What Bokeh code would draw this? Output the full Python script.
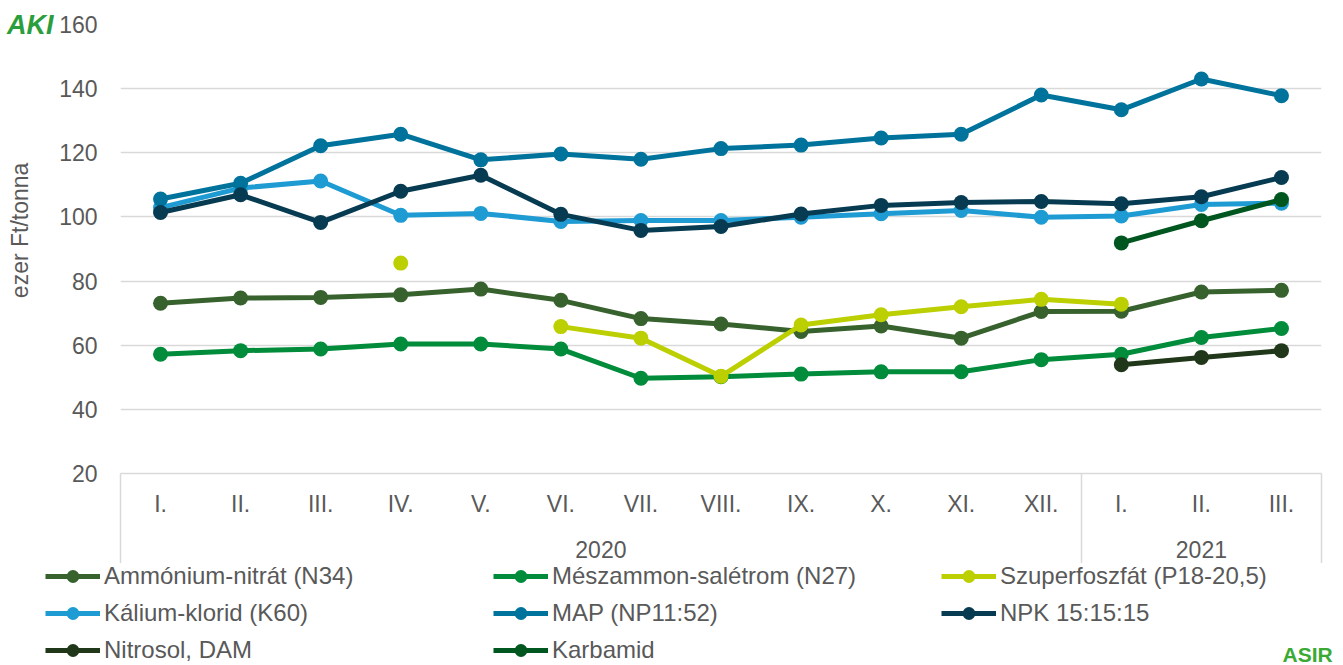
import numpy as np
from bokeh.plotting import figure
from bokeh.layouts import column
from bokeh.models import Range1d, FixedTicker, LinearAxis, Legend, LegendItem, Label
from bokeh.embed import file_html
from bokeh.resources import INLINE

nan = float("nan")

# ---- data ----
months = ["I.", "II.", "III.", "IV.", "V.", "VI.", "VII.", "VIII.", "IX.", "X.", "XI.", "XII.",
          "I.", "II.", "III."]
years = ["2020", "2021"]
year_counts = [12, 3]

ammonium = [73.1, 74.7, 74.9, 75.7, 77.5, 74.0, 68.3, 66.6, 64.3, 66.0, 62.2, 70.5, 70.6, 76.6, 77.1]
meszammon = [57.2, 58.3, 58.8, 60.4, 60.4, 58.8, 49.7, 50.2, 51.0, 51.7, 51.7, 55.5, 57.2, 62.4, 65.2]
szuperfoszfat = [nan, nan, nan, 85.6, nan, 65.8, 62.2, 50.3, 66.3, 69.5, 72.0, 74.3, 72.8, nan, nan]
kalium = [102.9, 109.0, 111.2, 100.5, 101.1, 98.6, 98.9, 98.9, 99.9, 101.0, 102.0, 99.9, 100.3, 103.9, 104.3]
map_np = [105.6, 110.5, 122.2, 125.8, 117.8, 119.6, 118.0, 121.3, 122.4, 124.6, 125.8, 138.0, 133.4, 143.0, 137.8]
npk = [101.4, 106.9, 98.3, 108.0, 113.0, 100.8, 95.8, 97.0, 100.9, 103.6, 104.5, 104.8, 104.1, 106.3, 112.3]
nitrosol = [nan, nan, nan, nan, nan, nan, nan, nan, nan, nan, nan, nan, 53.9, 56.2, 58.3]
karbamid = [nan, nan, nan, nan, nan, nan, nan, nan, nan, nan, nan, nan, 91.9, 98.8, 105.4]

series_names = ["Ammónium-nitrát (N34)", "Mészammon-salétrom (N27)", "Szuperfoszfát (P18-20,5)",
                "Kálium-klorid (K60)", "MAP (NP11:52)", "NPK 15:15:15",
                "Nitrosol, DAM", "Karbamid"]
series_values = [ammonium, meszammon, szuperfoszfat, kalium, map_np, npk, nitrosol, karbamid]
series_colors = ["#37622D", "#008C3A", "#BCCF00", "#1E9BD2", "#00739C", "#073B52", "#213719", "#00561F"]

y_ticks = [20, 40, 60, 80, 100, 120, 140, 160]
y_title = "ezer Ft/tonna"
y_title_at = 95.8
logo_top = "AKI"
logo_bottom = "ASIR"

TEXT = "#595959"
GRID = "#D9D9D9"
FONT = "Liberation Sans"
FS = "23px"
FS_LEG = "24px"
LW = 5
MS = 15
W = 1343
H1 = 563
H2 = 665 - H1

n = len(months)
x_pos = [i + 0.5 for i in range(n)]
bounds = [float(b) for b in np.cumsum([0] + year_counts)]
group_centers = [(bounds[i] + bounds[i + 1]) / 2 for i in range(len(years))]

# ================= main chart =================
p = figure(width=W, height=H1, x_range=Range1d(0, n), y_range=Range1d(20, 160),
           output_backend="svg", toolbar_location=None, x_axis_type=None,
           min_border_left=120, min_border_right=22, min_border_top=24, min_border_bottom=90)
p.outline_line_color = None
p.background_fill_color = "white"
p.border_fill_color = "white"
p.extra_y_ranges = {"logo": Range1d(0, 1)}

ya = p.yaxis[0]
ya.ticker = FixedTicker(ticks=y_ticks)
ya.axis_line_color = None
ya.major_tick_out = 0
ya.major_tick_in = 0
ya.minor_tick_line_color = None
ya.major_label_standoff = 23
ya.major_label_text_font = FONT
ya.major_label_text_font_size = FS
ya.major_label_text_color = TEXT
p.ygrid.grid_line_color = GRID
p.ygrid.grid_line_width = 1.5

# y title as a vertical label of a second left axis
axT = LinearAxis(ticker=FixedTicker(ticks=[y_title_at]),
                 major_label_overrides={y_title_at: y_title},
                 major_label_orientation="vertical",
                 axis_line_color=None, major_tick_out=0, major_tick_in=0,
                 major_tick_line_color=None, minor_tick_line_color=None,
                 major_label_standoff=23, major_label_text_font=FONT,
                 major_label_text_font_size=FS, major_label_text_color=TEXT)
p.add_layout(axT, "left")

# logo text (top-left)
axL = LinearAxis(y_range_name="logo", ticker=FixedTicker(ticks=[1]),
                 major_label_overrides={1: logo_top},
                 axis_line_color=None, major_tick_out=0, major_tick_in=0,
                 major_tick_line_color=None, minor_tick_line_color=None,
                 major_label_standoff=-49, major_label_text_font=FONT,
                 major_label_text_font_size="27px", major_label_text_font_style="bold italic",
                 major_label_text_color="#2A9D3C")
p.add_layout(axL, "left")

# month axis; minor ticks at group bounds give the separator lines
axA = LinearAxis(ticker=FixedTicker(ticks=x_pos, minor_ticks=bounds),
                 major_label_overrides={float(t): m for t, m in zip(x_pos, months)},
                 axis_line_color=GRID, axis_line_width=1.5,
                 major_tick_out=0, major_tick_in=0, major_tick_line_color=None,
                 minor_tick_out=93, minor_tick_in=0,
                 minor_tick_line_color=GRID, minor_tick_line_width=1.5,
                 major_label_standoff=17 - 93, major_label_text_font=FONT,
                 major_label_text_font_size=FS, major_label_text_color=TEXT)
p.add_layout(axA, "below")

axB = LinearAxis(ticker=FixedTicker(ticks=group_centers),
                 major_label_overrides={float(c): y for c, y in zip(group_centers, years)},
                 axis_line_color=None, major_tick_out=0, major_tick_in=0,
                 major_tick_line_color=None, minor_tick_line_color=None,
                 major_label_standoff=21, major_label_text_font=FONT,
                 major_label_text_font_size=FS, major_label_text_color=TEXT)
p.add_layout(axB, "below")

for vals, col in zip(series_values, series_colors):
    p.line(x_pos, vals, line_color=col, line_width=LW, line_join="round", line_cap="round")
    p.scatter(x_pos, vals, size=MS, fill_color=col, line_color=col, line_width=0)

# ================= legend strip =================
q = figure(width=W, height=H2, x_range=Range1d(0, W), y_range=Range1d(0, H2),
           output_backend="svg", toolbar_location=None, x_axis_type=None, y_axis_type=None,
           min_border_left=0, min_border_right=0, min_border_top=0, min_border_bottom=0)
q.outline_line_color = None
q.background_fill_color = "white"
q.border_fill_color = "white"
q.extra_x_ranges = {"off": Range1d(1000, 1001)}
for fig in (p, q):
    try:
        fig.frame_align = False
    except Exception:
        pass

items = []
for name, vals, col in zip(series_names, series_values, series_colors):
    # same series, mapped off-screen: only their legend glyphs show here
    r1 = q.line(x_pos, vals, line_color=col, line_width=LW, x_range_name="off")
    r2 = q.scatter(x_pos, vals, size=MS, fill_color=col, line_color=col, line_width=0,
                   x_range_name="off")
    items.append(LegendItem(label=name, renderers=[r1, r2]))

legend = Legend(items=items, location=(45, -1), orientation="horizontal", ncols=3,
                glyph_width=55, glyph_height=32, label_height=32, label_width=384,
                label_standoff=4, spacing=5, padding=0, margin=0,
                border_line_color=None, background_fill_alpha=0,
                label_text_font=FONT, label_text_font_size=FS_LEG, label_text_color=TEXT)
q.add_layout(legend, "center")

q.add_layout(Label(x=1282, y=11, text=logo_bottom, text_baseline="middle",
                   text_font=FONT, text_font_size="21px", text_font_style="bold",
                   text_color="#3AAA35"))

layout = column(p, q, spacing=0)
open("out.html", "w").write(file_html(layout, INLINE))
